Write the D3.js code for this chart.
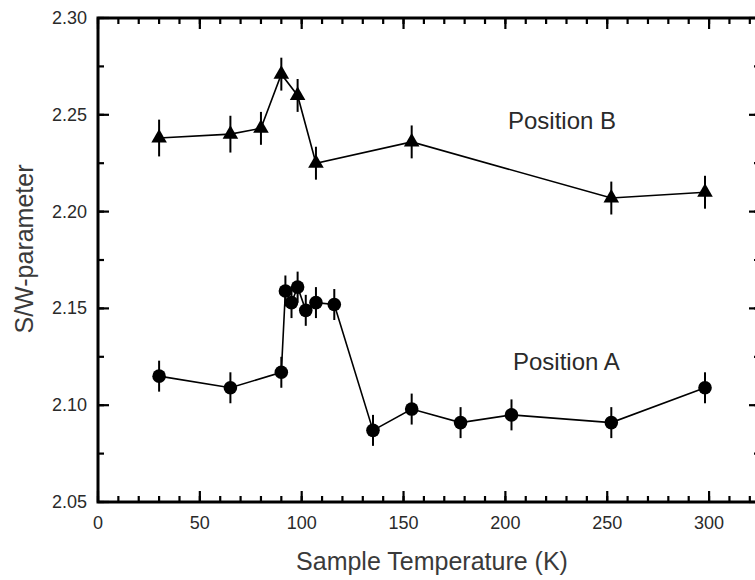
<!DOCTYPE html>
<html>
<head>
<meta charset="utf-8">
<script src="https://cdn.jsdelivr.net/npm/d3@7"></script>
<style>
  html, body { margin: 0; padding: 0; background: #fff; }
  svg { display: block; }
  text { font-family: "Liberation Sans", Arial, sans-serif; }
</style>
</head>
<body>
<svg id="chart" width="755" height="580"></svg>
<script>
// ---- data ----
const tempA = [30, 65, 90, 92, 95, 98, 102, 107, 116, 135, 154, 178, 203, 252, 298];
const valA  = [2.115, 2.109, 2.117, 2.159, 2.153, 2.161, 2.149, 2.153, 2.152, 2.087, 2.098, 2.091, 2.095, 2.091, 2.109];
const errA  = [0.008, 0.008, 0.008, 0.008, 0.008, 0.008, 0.008, 0.008, 0.008, 0.008, 0.008, 0.008, 0.008, 0.008, 0.008];

const tempB = [30, 65, 80, 90, 98, 107, 154, 252, 298];
const valB  = [2.238, 2.240, 2.243, 2.271, 2.260, 2.225, 2.236, 2.207, 2.210];
const errB  = [0.0095, 0.0095, 0.0085, 0.0085, 0.0085, 0.0085, 0.0085, 0.0085, 0.0085];

const xTicks = [0, 50, 100, 150, 200, 250, 300];
const yTicks = [2.05, 2.10, 2.15, 2.20, 2.25, 2.30];
const xMinor = d3.range(0, 330, 10);
const yMinor = d3.range(2.05, 2.30001, 0.025);

const labels = { x: "Sample Temperature (K)", y: "S/W-parameter", a: "Position A", b: "Position B" };

// ---- layout ----
const svg = d3.select("#chart");
const L = 98, R = 760, T = 18, B = 502;
const x = d3.scaleLinear().domain([0, 325]).range([L, R]);
const y = d3.scaleLinear().domain([2.05, 2.30]).range([B, T]);
const ink = "#000";
const textCol = "#2a2a2a";

// frame ticks (inward)
const axG = svg.append("g");
const majLen = 11, minLen = 6;
function addTicks(vals, len, orient) {
  vals.forEach(v => {
    if (orient === "bottom") axG.append("line").attr("x1", x(v)).attr("x2", x(v)).attr("y1", B).attr("y2", B - len);
    if (orient === "top") axG.append("line").attr("x1", x(v)).attr("x2", x(v)).attr("y1", T).attr("y2", T + len);
    if (orient === "left") axG.append("line").attr("y1", y(v)).attr("y2", y(v)).attr("x1", L).attr("x2", L + len);
    if (orient === "right") axG.append("line").attr("y1", y(v)).attr("y2", y(v)).attr("x1", R).attr("x2", R - len);
  });
}
["bottom", "top"].forEach(o => { addTicks(xMinor, minLen, o); addTicks(xTicks, majLen, o); });
["left", "right"].forEach(o => { addTicks(yMinor, minLen, o); addTicks(yTicks, majLen, o); });
axG.selectAll("line").attr("stroke", ink).attr("stroke-width", 2.2);

svg.append("rect").attr("x", L).attr("y", T).attr("width", R - L).attr("height", B - T)
  .attr("fill", "none").attr("stroke", ink).attr("stroke-width", 3);

// tick labels
svg.append("g").selectAll("text").data(xTicks).join("text")
  .attr("x", d => x(d)).attr("y", B + 27).attr("text-anchor", "middle")
  .attr("font-size", 18).attr("fill", textCol).text(d => d);
svg.append("g").selectAll("text").data(yTicks).join("text")
  .attr("x", L - 11).attr("y", d => y(d)).attr("dy", "0.33em").attr("text-anchor", "end")
  .attr("font-size", 18).attr("fill", textCol).text(d => d3.format(".2f")(d));

// axis titles
svg.append("text").attr("x", 432).attr("y", 570).attr("text-anchor", "middle")
  .attr("font-size", 25).attr("fill", "#3a3a3a").text(labels.x);
svg.append("text").attr("transform", "translate(33,249) rotate(-90)").attr("text-anchor", "middle")
  .attr("font-size", 25).attr("fill", "#3a3a3a").text(labels.y);

// series
function drawSeries(ts, vs, es, symbol, size) {
  const pts = ts.map((t, i) => ({ t, v: vs[i], e: es[i] }));
  const g = svg.append("g");
  g.append("path").datum(pts)
    .attr("d", d3.line().x(d => x(d.t)).y(d => y(d.v)))
    .attr("fill", "none").attr("stroke", ink).attr("stroke-width", 1.6);
  g.selectAll("line.err").data(pts).join("line").attr("class", "err")
    .attr("x1", d => x(d.t)).attr("x2", d => x(d.t))
    .attr("y1", d => y(d.v - d.e)).attr("y2", d => y(d.v + d.e))
    .attr("stroke", ink).attr("stroke-width", 2);
  g.selectAll("path.m").data(pts).join("path").attr("class", "m")
    .attr("transform", d => `translate(${x(d.t)},${y(d.v)})`)
    .attr("d", d3.symbol().type(symbol).size(size)).attr("fill", ink);
}
drawSeries(tempB, valB, errB, d3.symbolTriangle, 105);
drawSeries(tempA, valA, errA, d3.symbolCircle, 145);

// annotations
svg.append("text").attr("x", 508).attr("y", 129).attr("font-size", 24).attr("fill", textCol).text(labels.b);
svg.append("text").attr("x", 513).attr("y", 370).attr("font-size", 24).attr("fill", textCol).text(labels.a);
</script>
</body>
</html>
